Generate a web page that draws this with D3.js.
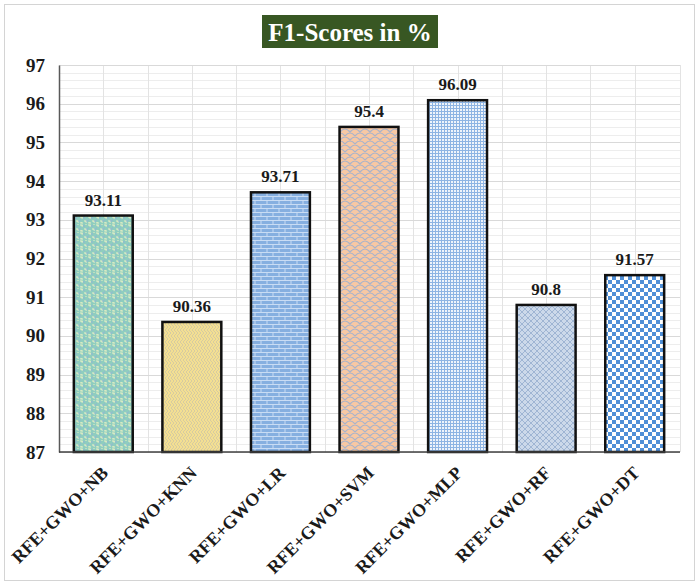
<!DOCTYPE html>
<html>
<head>
<meta charset="utf-8">
<script src="https://cdn.jsdelivr.net/npm/d3@7"></script>
<style>
  body { margin: 0; background: #fff; }
  text { font-family: "Liberation Serif", "Times New Roman", serif; font-weight: bold; }
</style>
</head>
<body>
<div id="chart"></div>
<script>
var models = ["RFE+GWO+NB", "RFE+GWO+KNN", "RFE+GWO+LR", "RFE+GWO+SVM", "RFE+GWO+MLP", "RFE+GWO+RF", "RFE+GWO+DT"];
var f1Scores = [93.11, 90.36, 93.71, 95.4, 96.09, 90.8, 91.57];
var yTicks = [87, 88, 89, 90, 91, 92, 93, 94, 95, 96, 97];

var width = 700, height = 586;
var margin = {top: 65, right: 20, bottom: 134, left: 59};

var svg = d3.select("#chart").append("svg")
    .attr("width", width)
    .attr("height", height);

// patterns for the bar fills
var defs = svg.append("defs");

function pattern(id, w, h, bg) {
    var p = defs.append("pattern")
        .attr("id", id)
        .attr("patternUnits", "userSpaceOnUse")
        .attr("width", w).attr("height", h);
    p.append("rect").attr("width", w).attr("height", h).attr("fill", bg);
    return p;
}

// NB: teal confetti
var p0 = pattern("pNB", 8, 8, "#8fcdbf");
p0.append("path").attr("d", "M0,1 h2 v1 h1 M4,5 h2 v1 h1 M5,0 h2 M1,6 v1 h2")
    .attr("stroke", "#e9f1c4").attr("stroke-width", 1.2).attr("fill", "none");
p0.append("path").attr("d", "M3,2 h2 M7,4 v2 M0,4 h1")
    .attr("stroke", "#8fb3d6").attr("stroke-width", 1).attr("fill", "none");

// KNN: yellow zigzag
var p1 = pattern("pKNN", 6, 6, "#f3df92");
p1.append("path").attr("d", "M0,6 L3,3 L0,0 M3,6 L6,3 L3,0")
    .attr("stroke", "#d6cba0").attr("stroke-width", 1).attr("fill", "none");

// LR: blue bricks
var p2 = pattern("pLR", 12, 8, "#86afe0");
p2.append("path").attr("d", "M0,0.5 H12 M0,4.5 H12 M3,0 V4 M9,4 V8")
    .attr("stroke", "#c9dcf4").attr("stroke-width", 1).attr("fill", "none");

// SVM: peach shingles
var p3 = pattern("pSVM", 10, 8, "#f8c8a3");
p3.append("path").attr("d", "M0,4 Q5,-2 10,4 M-5,8 Q0,2 5,8 M5,8 Q10,2 15,8")
    .attr("stroke", "#a8b3cb").attr("stroke-width", 1.2).attr("fill", "none");

// MLP: fine blue grid
var p4 = pattern("pMLP", 3, 3, "#eef4fb");
p4.append("path").attr("d", "M0,0.5 H3 M0.5,0 V3")
    .attr("stroke", "#8db4e3").attr("stroke-width", 1).attr("fill", "none");

// RF: grey-blue crosshatch
var p5 = pattern("pRF", 6, 6, "#ccd9ea");
p5.append("path").attr("d", "M0,0 L6,6 M6,0 L0,6")
    .attr("stroke", "#9fb5d3").attr("stroke-width", 1).attr("fill", "none");

// DT: blue checker
var p6 = pattern("pDT", 8, 8, "#ffffff");
p6.append("path").attr("d", "M0,0 h4 v4 h-4 Z M4,4 h4 v4 h-4 Z")
    .attr("fill", "#4f8fd7");

var fills = ["pNB", "pKNN", "pLR", "pSVM", "pMLP", "pRF", "pDT"];

// outer border
svg.append("rect")
    .attr("x", 4.5).attr("y", 4.5)
    .attr("width", 690).attr("height", 576)
    .attr("fill", "none").attr("stroke", "#d4d4d4");

var x = d3.scaleBand()
    .domain(models)
    .range([margin.left, width - margin.right - 1])
    .paddingInner(0.335)
    .paddingOuter(0.1675);

var y = d3.scaleLinear()
    .domain([87, 97])
    .range([height - margin.bottom, margin.top]);

var grid = svg.append("g");

// minor horizontal gridlines
grid.selectAll("line.hminor")
    .data(d3.range(87, 97.001, 0.2))
    .enter().append("line")
    .attr("x1", margin.left).attr("x2", width - margin.right)
    .attr("y1", function(d) { return Math.round(y(d)) + 0.5; })
    .attr("y2", function(d) { return Math.round(y(d)) + 0.5; })
    .attr("stroke", "#ededed");

// vertical gridlines: category edges and centres
var vx = [];
models.forEach(function(m) {
    vx.push(x(m) - x.step() * x.paddingInner() / 2);
    vx.push(x(m) + x.bandwidth() / 2);
});
vx.push(width - margin.right);
grid.selectAll("line.v")
    .data(vx)
    .enter().append("line")
    .attr("x1", function(d) { return Math.round(d) + 0.5; })
    .attr("x2", function(d) { return Math.round(d) + 0.5; })
    .attr("y1", y(97)).attr("y2", y(87))
    .attr("stroke", "#e3e3e3");

// major horizontal gridlines
grid.selectAll("line.hmajor")
    .data(yTicks)
    .enter().append("line")
    .attr("x1", margin.left).attr("x2", width - margin.right)
    .attr("y1", function(d) { return Math.round(y(d)) + 0.5; })
    .attr("y2", function(d) { return Math.round(y(d)) + 0.5; })
    .attr("stroke", "#d9d9d9");

// y axis
var yAxis = svg.append("g")
    .attr("transform", "translate(" + margin.left + ",0)")
    .call(d3.axisLeft(y).tickValues(yTicks).tickSize(0).tickPadding(14).tickFormat(d3.format("d")));
yAxis.select(".domain").attr("stroke", "#595959").attr("stroke-width", 1.5);
yAxis.selectAll("text")
    .attr("font-size", 19)
    .attr("fill", "#1a1a1a")
    .style("font-family", "'Liberation Serif', serif")
    .style("font-weight", "bold");

// bars
svg.selectAll("rect.bar")
    .data(f1Scores)
    .enter().append("rect")
    .attr("class", "bar")
    .attr("x", function(d, i) { return x(models[i]); })
    .attr("y", function(d) { return y(d); })
    .attr("width", x.bandwidth())
    .attr("height", function(d) { return y(87) - y(d); })
    .attr("fill", function(d, i) { return "url(#" + fills[i] + ")"; })
    .attr("stroke", "#111")
    .attr("stroke-width", 2.5);

// x axis line
svg.append("line")
    .attr("x1", margin.left).attr("x2", width - margin.right)
    .attr("y1", y(87)).attr("y2", y(87))
    .attr("stroke", "#404040").attr("stroke-width", 1.5);

// value labels
svg.selectAll("text.val")
    .data(f1Scores)
    .enter().append("text")
    .attr("class", "val")
    .attr("x", function(d, i) { return x(models[i]) + x.bandwidth() / 2; })
    .attr("y", function(d) { return y(d) - 10; })
    .attr("text-anchor", "middle")
    .attr("font-size", 17)
    .attr("fill", "#1a1a1a")
    .text(function(d) { return d; });

// category labels
svg.selectAll("text.cat")
    .data(models)
    .enter().append("text")
    .attr("class", "cat")
    .attr("transform", function(d) {
        return "translate(" + (x(d) + x.bandwidth() / 2 + 6) + "," + (y(87) + 22) + ") rotate(-45)";
    })
    .attr("text-anchor", "end")
    .attr("font-size", 18)
    .attr("fill", "#1a1a1a")
    .text(function(d) { return d; });

// title box
svg.append("rect")
    .attr("x", 262).attr("y", 15)
    .attr("width", 176).attr("height", 33)
    .attr("fill", "#385723");
svg.append("text")
    .attr("x", 350).attr("y", 41)
    .attr("text-anchor", "middle")
    .attr("font-size", 25)
    .attr("fill", "#fff")
    .text("F1-Scores in %");
</script>
</body>
</html>
